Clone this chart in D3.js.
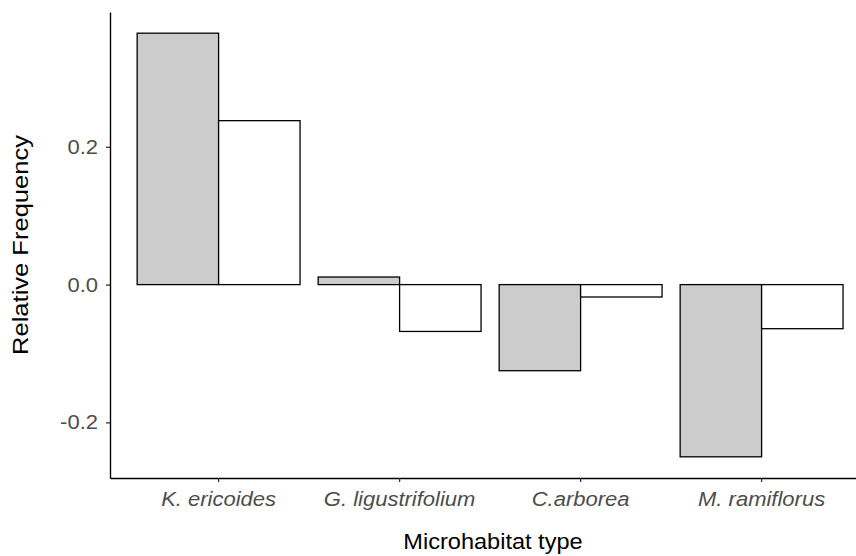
<!DOCTYPE html>
<html>
<head>
<meta charset="utf-8">
<script src="https://cdn.jsdelivr.net/npm/d3@7"></script>
<style>
  html, body { margin: 0; padding: 0; background: #fff; }
  svg { display: block; }
</style>
</head>
<body>
<svg id="chart" width="856" height="556"></svg>
<script>
// ---- data ----
const categories = ["K. ericoides", "G. ligustrifolium", "C.arborea", "M. ramiflorus"];
const seriesNames = ["Grey", "White"];
const greyValues = [0.365, 0.011, -0.125, -0.250];
const whiteValues = [0.238, -0.068, -0.018, -0.064];
const yTicks = [-0.2, 0.0, 0.2];
const xTitle = "Microhabitat type";
const yTitle = "Relative Frequency";

(function () {
const seriesValues = [greyValues, whiteValues];
const fills = ["#cccccc", "#ffffff"];
const FONT = "Liberation Sans, Arial, sans-serif";

const svg = d3.select("#chart");
const mLeft = 110, mTop = 12, mBottom = 478;
const step = 181;
const mRight = mLeft + 4.2 * step;

const allVals = greyValues.concat(whiteValues);
const vmin = d3.min(allVals), vmax = d3.max(allVals);
const pad = (vmax - vmin) * 0.05;

const x = d3.scaleBand().domain(categories).range([mLeft, mRight])
  .paddingInner(0.1).paddingOuter(0.15);
const xs = d3.scaleBand().domain(seriesNames).range([0, x.bandwidth()]).padding(0);
const y = d3.scaleLinear().domain([vmin - pad, vmax + pad]).range([mBottom, mTop]);

// stretch text horizontally a little to match the reference's wider glyphs
function widen(sel, factor) {
  sel.each(function () {
    const len = this.getComputedTextLength();
    d3.select(this).attr("textLength", len * factor).attr("lengthAdjust", "spacingAndGlyphs");
  });
}

// bars
const rows = [];
categories.forEach((c, i) => {
  seriesNames.forEach((s, j) => rows.push({ c, s, v: seriesValues[j][i], fill: fills[j] }));
});
svg.append("g").selectAll("rect").data(rows).join("rect")
  .attr("x", d => x(d.c) + xs(d.s))
  .attr("width", xs.bandwidth())
  .attr("y", d => y(Math.max(0, d.v)))
  .attr("height", d => Math.abs(y(d.v) - y(0)))
  .attr("fill", d => d.fill)
  .attr("stroke", "#000")
  .attr("stroke-width", 1.3);

// axes
const yAxis = svg.append("g").attr("transform", `translate(${mLeft},0)`)
  .call(d3.axisLeft(y).tickValues(yTicks).tickFormat(d3.format(".1f")).tickSize(4).tickPadding(8).tickSizeOuter(0));
const xAxis = svg.append("g").attr("transform", `translate(0,${mBottom})`)
  .call(d3.axisBottom(x).tickSize(4).tickPadding(10).tickSizeOuter(0));

[yAxis, xAxis].forEach(g => {
  g.select(".domain").attr("stroke", "#000").attr("stroke-width", 1.4);
  g.selectAll(".tick line").attr("stroke", "#333").attr("stroke-width", 1.3);
  g.selectAll(".tick text").attr("fill", "#4d4d4d")
    .attr("font-family", FONT).attr("font-size", 20);
});
yAxis.selectAll(".tick text").text(d => d3.format(".1f")(d).replace("−", "-"));
xAxis.selectAll(".tick text").attr("font-style", "italic");
widen(yAxis.selectAll(".tick text"), 1.1);
widen(xAxis.selectAll(".tick text"), 1.1);

// titles
const xt = svg.append("text")
  .attr("x", 493).attr("y", 549)
  .attr("text-anchor", "middle")
  .attr("font-family", FONT).attr("font-size", 22)
  .attr("fill", "#000").text(xTitle);
widen(xt, 1.07);
const yt = svg.append("text")
  .attr("transform", `translate(28,${(mTop + mBottom) / 2}) rotate(-90)`)
  .attr("text-anchor", "middle")
  .attr("font-family", FONT).attr("font-size", 22)
  .attr("fill", "#000").text(yTitle);
widen(yt, 1.16);
})();
</script>
</body>
</html>
